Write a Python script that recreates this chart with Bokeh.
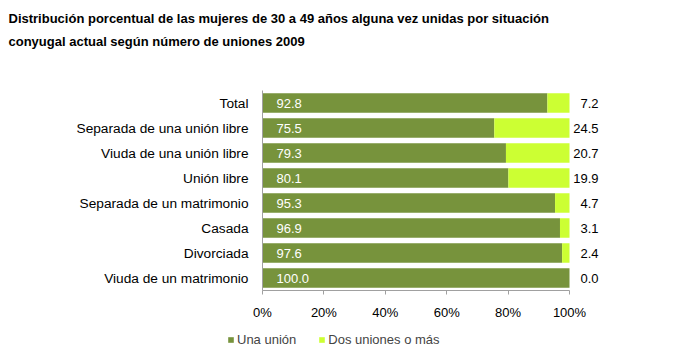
from bokeh.plotting import figure
from bokeh.layouts import column
from bokeh.models import (ColumnDataSource, FactorRange, Range1d, FixedTicker, LabelSet,
                          Legend, LegendItem, Title)
from bokeh.core.properties import value
from bokeh.embed import file_html
from bokeh.resources import INLINE

categories = ["Total", "Separada de una unión libre", "Viuda de una unión libre", "Unión libre",
              "Separada de un matrimonio", "Casada", "Divorciada", "Viuda de un matrimonio"]
una_union = [92.8, 75.5, 79.3, 80.1, 95.3, 96.9, 97.6, 100.0]
dos_uniones = [7.2, 24.5, 20.7, 19.9, 4.7, 3.1, 2.4, 0.0]
series_names = ["Una unión", "Dos uniones o más"]
tick_values = [0, 20, 40, 60, 80, 100]
tick_labels = ["0%", "20%", "40%", "60%", "80%", "100%"]
title_line1 = "Distribución porcentual de las mujeres de 30 a 49 años alguna vez unidas por situación"
title_line2 = "conyugal actual según número de uniones 2009"

FONT = "Liberation Sans"
GREEN = "#77933C"
LIME = "#CCFF33"

W = 697
H_MAIN = 322
H_LEG = 30
LEFT = 262
PX_PER_100 = 307.0
x_end = 100.0 * (W - LEFT) / PX_PER_100

source = ColumnDataSource(dict(
    cat=categories,
    una=una_union,
    dos=dos_uniones,
    una_txt=["%.1f" % v for v in una_union],
    dos_txt=["%.1f" % v for v in dos_uniones],
    total=[a + b for a, b in zip(una_union, dos_uniones)],
))

p = figure(width=W, height=H_MAIN, output_backend="svg", toolbar_location=None,
           y_range=FactorRange(factors=categories[::-1], range_padding=0),
           x_range=Range1d(0, x_end),
           min_border_left=LEFT, min_border_right=0, min_border_bottom=32, min_border_top=90,
           title=None, frame_align=False)

r = p.hbar_stack(["una", "dos"], y="cat", height=0.78, color=[GREEN, LIME], line_color=None,
                 source=source)

p.add_layout(LabelSet(x=0, y="cat", text="una_txt", source=source, x_offset=14, y_offset=0,
                      text_color="white", text_font=value(FONT), text_font_size="13px",
                      text_baseline="middle", text_align="left"))
p.add_layout(LabelSet(x="total", y="cat", text="dos_txt", source=source, x_offset=29,
                      text_color="black", text_font=value(FONT), text_font_size="13px",
                      text_baseline="middle", text_align="right"))

p.xgrid.visible = False
p.ygrid.visible = False
p.outline_line_color = None

xa = p.xaxis[0]
xa.ticker = FixedTicker(ticks=tick_values)
xa.bounds = (0, 100)
xa.major_label_overrides = {v: l for v, l in zip(tick_values, tick_labels)}
xa.axis_line_color = "#A0A0A0"
xa.major_tick_line_color = "#A0A0A0"
xa.major_tick_out = 4
xa.major_tick_in = 0
xa.minor_tick_line_color = None
xa.major_label_standoff = 10
xa.major_label_text_font = FONT
xa.major_label_text_font_size = "13px"
xa.major_label_text_color = "black"

ya = p.yaxis[0]
ya.axis_line_color = "#A0A0A0"
ya.major_tick_line_color = None
ya.major_tick_out = 0
ya.major_tick_in = 0
ya.minor_tick_line_color = None
ya.major_label_standoff = 14
ya.major_label_text_font = FONT
ya.major_label_text_font_size = "13.7px"
ya.major_label_text_color = "black"

p.add_layout(Title(text=" ", text_font_size="22px"), "above")
p.add_layout(Title(text=title_line1 + "\n" + title_line2, text_font=FONT, text_font_size="13px",
                   text_font_style="bold", text_color="black", align="left", offset=-254,
                   text_line_height=1.5),
             "above")

# legend strip: the same bars, kept outside this strip's visible x-range so only the keys show
p2 = figure(width=W, height=H_LEG, output_backend="svg", toolbar_location=None,
            y_range=FactorRange(factors=categories[::-1]), x_range=Range1d(-2, -1),
            min_border_left=0, min_border_right=0, min_border_top=0, min_border_bottom=0,
            frame_align=False)
p2.axis.visible = False
p2.grid.visible = False
p2.outline_line_color = None
r2 = p2.hbar_stack(["una", "dos"], y="cat", height=0.78, color=[GREEN, LIME], line_color=None,
                   source=source)
legend = Legend(items=[LegendItem(label=series_names[0], renderers=[r2[0]]),
                       LegendItem(label=series_names[1], renderers=[r2[1]])],
                orientation="horizontal", location=(227, 5),
                glyph_width=7, glyph_height=7, label_standoff=3, spacing=22,
                padding=0, margin=0, border_line_color=None, background_fill_alpha=0,
                label_text_font=FONT, label_text_font_size="13px", label_height=14)
p2.add_layout(legend, "center")

layout = column(p, p2, spacing=0)
open("out.html", "w").write(file_html(layout, INLINE))
